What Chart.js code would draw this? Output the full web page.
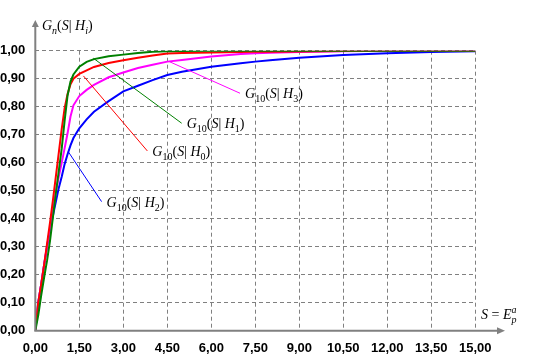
<!DOCTYPE html>
<html>
<head>
<meta charset="utf-8">
<script src="https://cdn.jsdelivr.net/npm/chart.js@4/dist/chart.umd.min.js"></script>
<style>
html,body{margin:0;padding:0;background:#fff;}
canvas{display:block;}
</style>
</head>
<body>
<canvas id="c" width="540" height="360"></canvas>
<script>
// ---- data ----
const sValues = [0,0.1,0.2,0.3,0.4,0.5,0.6,0.7,0.8,0.9,1.0,1.1,1.2,1.3,1.5,1.75,2.0,2.5,3.0,3.5,4.0,4.5,5.0,6.0,7.0,7.5,8.0,9.0,10.5,12.0,13.5,15.0];
const seriesH1 = [0,0.055,0.125,0.19,0.25,0.32,0.405,0.49,0.57,0.65,0.75,0.84,0.89,0.915,0.943,0.96,0.97,0.98,0.986,0.992,0.996,0.998,0.999,1,1,1,1,1,1,1,1,1];
const seriesH0 = [0,0.1,0.165,0.235,0.31,0.385,0.465,0.55,0.635,0.72,0.795,0.845,0.88,0.9,0.917,0.93,0.942,0.956,0.966,0.975,0.983,0.99,0.992,0.994,0.995,0.996,0.996,0.997,0.999,1,1,1];
const seriesH3 = [0,0.1,0.165,0.235,0.3,0.365,0.425,0.495,0.55,0.6,0.652,0.705,0.765,0.805,0.838,0.86,0.878,0.905,0.922,0.938,0.95,0.961,0.967,0.979,0.988,0.991,0.993,0.995,0.998,1,1,1];
const seriesH2 = [0,0.1,0.165,0.235,0.3,0.36,0.41,0.46,0.51,0.55,0.595,0.63,0.662,0.688,0.723,0.755,0.782,0.82,0.855,0.875,0.895,0.913,0.925,0.943,0.955,0.961,0.966,0.975,0.985,0.991,0.995,0.998];
const xTickValues = [0,1.5,3,4.5,6,7.5,9,10.5,12,13.5,15];
const yTickValues = [0,0.1,0.2,0.3,0.4,0.5,0.6,0.7,0.8,0.9,1.0];
const seriesNames = ['H1','H0','H2','H3'];
const seriesSub = ['1','0','2','3'];
const leaderFromS = [1.98,1.64,1.125,4.57];
const leaderFromV = [0.973,0.910,0.639,0.961];
const leaderToS = [4.99,3.82,2.26,6.98];
const leaderToV = [0.741,0.642,0.461,0.848];

const COLORS = {H1:'#008000',H0:'#ff0000',H2:'#0000ff',H3:'#ff00ff'};
const seriesValues = {H1:seriesH1,H0:seriesH0,H2:seriesH2,H3:seriesH3};
const GRAY = '#808080';
const SERIF = '"Liberation Serif", "Times New Roman", serif';

function fmt(v){ return v.toFixed(2).replace('.', ','); }

function drawRich(ctx, x, y, segs, size){
  let cx = x;
  ctx.save();
  ctx.fillStyle = '#000';
  ctx.textBaseline = 'alphabetic';
  ctx.textAlign = 'left';
  let lastX = cx;
  for (const s of segs){
    const small = s.k === 'sub' || s.k === 'sup';
    const fs = small ? Math.round(size*0.72) : size;
    ctx.font = (s.i ? 'italic ' : '') + fs + 'px ' + SERIF;
    let yy = y;
    if (s.k === 'sub') yy = y + Math.round(size*0.3);
    if (s.k === 'sup') yy = y - Math.round(size*0.45);
    const startX = s.stack ? lastX : cx;
    ctx.fillText(s.t, startX, yy);
    const w = ctx.measureText(s.t).width;
    if (!s.stack){ lastX = cx; cx += w; } else { cx = Math.max(cx, startX + w); }
  }
  ctx.restore();
}

function curveLabel(sub){
  return [
    {t:'G', i:true},{t:'10', k:'sub'},{t:'('},{t:'S', i:true},{t:'| '},{t:'H', i:true},{t:sub, k:'sub'},{t:')'}
  ];
}

const overlay = {
  id:'overlay',
  afterDatasetsDraw(chart){
    const ctx = chart.ctx;
    const xs = chart.scales.x, ys = chart.scales.y;
    const x0 = xs.getPixelForValue(0), y0 = ys.getPixelForValue(0);
    // leader lines and labels
    for (let i = 0; i < seriesNames.length; i++){
      const col = COLORS[seriesNames[i]];
      const ax = xs.getPixelForValue(leaderFromS[i]), ay = ys.getPixelForValue(leaderFromV[i]);
      const bx = xs.getPixelForValue(leaderToS[i]), by = ys.getPixelForValue(leaderToV[i]);
      ctx.save();
      ctx.strokeStyle = col; ctx.lineWidth = 1;
      ctx.beginPath(); ctx.moveTo(ax, ay); ctx.lineTo(bx, by); ctx.stroke();
      ctx.restore();
      drawRich(ctx, bx + 5, by + 5, curveLabel(seriesSub[i]), 14);
    }
    // axes with arrows
    ctx.save();
    ctx.strokeStyle = GRAY; ctx.fillStyle = GRAY; ctx.lineWidth = 2;
    ctx.beginPath(); ctx.moveTo(x0, y0); ctx.lineTo(x0, 26); ctx.stroke();
    ctx.beginPath(); ctx.moveTo(x0, 20); ctx.lineTo(x0 - 3.5, 27); ctx.lineTo(x0 + 3.5, 27); ctx.closePath(); ctx.fill();
    ctx.beginPath(); ctx.moveTo(x0 - 1, y0); ctx.lineTo(499, y0); ctx.stroke();
    ctx.beginPath(); ctx.moveTo(505, y0); ctx.lineTo(497, y0 - 3.5); ctx.lineTo(497, y0 + 3.5); ctx.closePath(); ctx.fill();
    ctx.restore();
    // axis titles
    drawRich(ctx, 42, 30, [
      {t:'G', i:true},{t:'n', k:'sub', i:true},{t:'('},{t:'S', i:true},{t:'| '},{t:'H', i:true},{t:'i', k:'sub', i:true},{t:')'}
    ], 14);
    drawRich(ctx, 481, 319, [
      {t:'S', i:true},{t:' = '},{t:'E', i:true},{t:'p', k:'sub', i:true},{t:'a', k:'sup', i:true, stack:true}
    ], 14);
  }
};

const order = ['H1','H0','H3','H2'];
const datasets = order.map(n => ({
  label: n,
  data: sValues.map((s, j) => ({x: s, y: seriesValues[n][j]})),
  borderColor: COLORS[n],
  backgroundColor: COLORS[n],
  borderWidth: 2,
  pointRadius: 0,
  tension: 0,
  fill: false
}));

const tickFont = {family:'"Liberation Sans", Arial, sans-serif', size:13, weight:'bold'};

new Chart(document.getElementById('c'), {
  type:'line',
  data:{datasets},
  options:{
    responsive:false,
    devicePixelRatio:1,
    animation:false,
    layout:{padding:{top:50.7, right:64.7, left:0, bottom:0}},
    plugins:{legend:{display:false}, tooltip:{enabled:false}, title:{display:false}},
    scales:{
      x:{
        type:'linear', min:0, max:15,
        afterBuildTicks(s){ s.ticks = xTickValues.map(v => ({value:v})); },
        afterFit(s){ s.height = 29.3; },
        ticks:{callback:v => fmt(v), font:tickFont, color:'#000', padding:10, maxRotation:0, autoSkip:false},
        grid:{color:c => (c.tick && c.tick.value === 0) ? 'rgba(0,0,0,0)' : GRAY, lineWidth:1, drawTicks:false},
        border:{display:false, dash:[4,3]}
      },
      y:{
        type:'linear', min:0, max:1,
        afterBuildTicks(s){ s.ticks = yTickValues.map(v => ({value:v})); },
        afterFit(s){ s.width = 35.3; },
        ticks:{callback:v => fmt(v), font:tickFont, color:'#000', padding:10, autoSkip:false},
        grid:{color:c => (c.tick && c.tick.value === 0) ? 'rgba(0,0,0,0)' : GRAY, lineWidth:1, drawTicks:false},
        border:{display:false, dash:[4,3]}
      }
    }
  },
  plugins:[overlay]
});
</script>
</body>
</html>
